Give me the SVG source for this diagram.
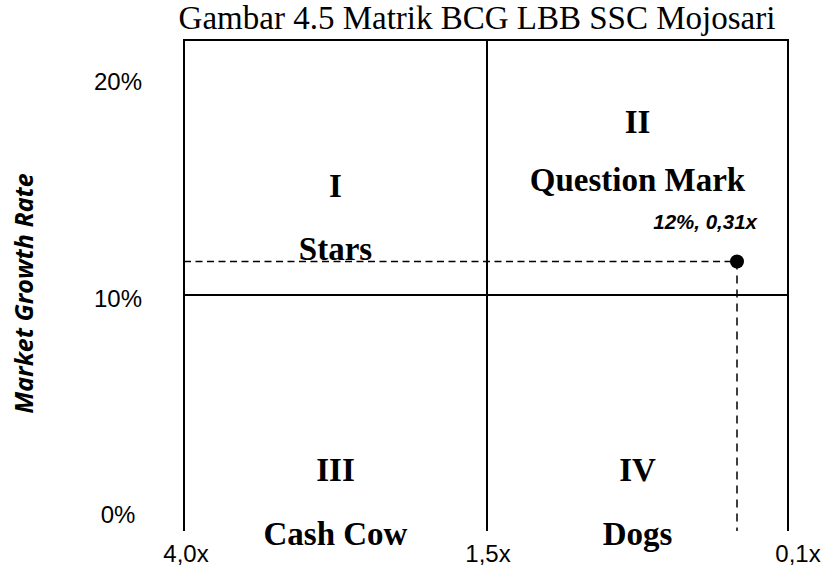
<svg xmlns="http://www.w3.org/2000/svg" width="825" height="572" viewBox="0 0 825 572">
<style>
.title{font-family:"Liberation Serif","Times New Roman",serif;font-size:33px;fill:#000}
.q{font-family:"Liberation Serif","Times New Roman",serif;font-size:33px;font-weight:bold;fill:#000;text-anchor:middle}
.ax{font-family:"Liberation Sans",Arial,sans-serif;font-size:24px;fill:#000;text-anchor:middle}
.yl{font-family:"Open Sans","Liberation Sans",sans-serif;font-size:25px;font-weight:bold;font-style:italic;fill:#000;text-anchor:middle}
.pt{font-family:"Liberation Sans",Arial,sans-serif;font-size:20.5px;font-weight:bold;font-style:italic;fill:#000;text-anchor:end}
.frame{stroke:#000;stroke-width:2;fill:none}
.dash{stroke:#000;stroke-width:1.5;fill:none;stroke-dasharray:7 4.5}
</style>
<rect width="825" height="572" fill="#fff"/>
<text class="title" x="477" y="28.5" text-anchor="middle">Gambar 4.5 Matrik BCG LBB SSC Mojosari</text>
<g id="axes">
<text class="ax" x="118" y="90">20%</text>
<text class="ax" x="118" y="307">10%</text>
<text class="ax" x="118" y="523">0%</text>
<text class="ax" x="186" y="562">4,0x</text>
<text class="ax" x="488" y="562">1,5x</text>
<text class="ax" x="798" y="562">0,1x</text>
<text class="yl" transform="translate(33,293.5) rotate(-90)">Market Growth Rate</text>
</g>
<g id="connectors">
<path class="frame" d="M184,531 V40 H788 V531 M487,40 V531 M184,295 H788"/>
<path class="dash" d="M184,261.5 H737"/>
<path class="dash" d="M737,261.5 V531" style="stroke-dasharray:8 6"/>
</g>
<g id="q1"><text class="q" x="335.5" y="197">I</text><text class="q" x="335.5" y="260">Stars</text></g>
<g id="q2"><text class="q" x="637.5" y="133">II</text><text class="q" x="637.5" y="191">Question Mark</text></g>
<g id="q3"><text class="q" x="335.5" y="481">III</text><text class="q" x="335.5" y="545">Cash Cow</text></g>
<g id="q4"><text class="q" x="637.5" y="481">IV</text><text class="q" x="637.5" y="545">Dogs</text></g>
<g id="point"><circle cx="737" cy="261.5" r="7" fill="#000"/><text class="pt" x="757" y="229">12%, 0,31x</text></g>
</svg>
